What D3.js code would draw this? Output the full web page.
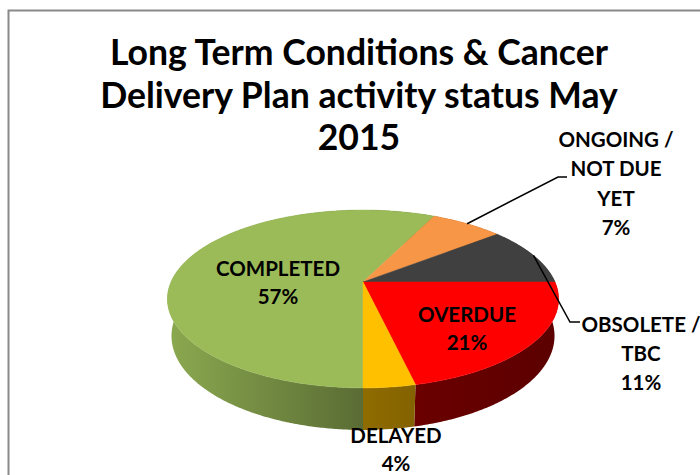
<!DOCTYPE html>
<html>
<head>
<meta charset="utf-8">
<script src="https://cdn.jsdelivr.net/npm/d3@7"></script>
<style>
  body { margin: 0; background: #fff; }
  text { font-family: Lato, "Open Sans", sans-serif; font-weight: bold; fill: #000; }
</style>
</head>
<body>
<div id="chart"></div>
<script>
// data
var categories = ["COMPLETED", "ONGOING / NOT DUE YET", "OBSOLETE / TBC", "OVERDUE", "DELAYED"];
var counts = [16, 2, 3, 6, 1];
var labelLines = [["COMPLETED"], ["ONGOING /", "NOT DUE", "YET"], ["OBSOLETE /", "TBC"], ["OVERDUE"], ["DELAYED"]];
var titleLines = ["Long Term Conditions & Cancer", "Delivery Plan activity status May", "2015"];

// styles
var topColors = ["#9bbb59", "#f79646", "#404040", "#ff0000", "#ffc000"];
var sideLeft = ["#8aa84f", "#c0733a", "#4a4a4a", "#830000", "#c09000"];
var sideRight = ["#2a3019", "#603a1d", "#252525", "#5c0000", "#604800"];

// label layout: centre x, first baseline, line height
var labelPos = [
  {x: 278, y: 276, lh: 27.5},
  {x: 616, y: 147, lh: 29.3},
  {x: 641, y: 332, lh: 29},
  {x: 467, y: 322, lh: 27.5},
  {x: 396, y: 443, lh: 27.5}
];
var leaderEnds = {1: [[558, 177], [567, 177]], 2: [[570, 322], [580, 322]]};

var width = 700, height = 475;
var svg = d3.select("#chart").append("svg")
  .attr("width", width)
  .attr("height", height);
var defs = svg.append("defs");

// chart area border
svg.append("rect")
  .attr("x", 8.5).attr("y", 10.5)
  .attr("width", 800).attr("height", 600)
  .style("fill", "#fff")
  .style("stroke", "#898989")
  .style("stroke-width", 2);

// title
var title = svg.append("g");
titleLines.forEach(function(t, i) {
  title.append("text")
    .attr("x", 359)
    .attr("y", 65 + i * 42.5)
    .attr("text-anchor", "middle")
    .style("font-size", "34px")
    .text(t);
});
var w0 = title.select("text").node().getComputedTextLength();
title.selectAll("text").style("font-size", (34 * 498 / w0) + "px");

// 3d projection of the pie (perspective)
var cx = 363, cy = 282, f = 899.7, D = 4.686;
var tilt = 26.5 * Math.PI / 180, sn = Math.sin(tilt), cs = Math.cos(tilt);
var depthH = 0.2156;
function proj(a, r, z) {
  var X = r * Math.sin(a), Y = r * Math.cos(a), Z = z;
  var dep = D + Y * cs - Z * sn;
  var v = Y * sn + Z * cs;
  return [cx + f * X / dep, cy - f * v / dep];
}
function arcPts(a0, a1, z) {
  var n = Math.max(2, Math.ceil((a1 - a0) / (Math.PI / 360)));
  return d3.range(n + 1).map(function(j) { return proj(a0 + (a1 - a0) * j / n, 1, z); });
}

var pie = d3.pie().sort(null).startAngle(Math.PI).endAngle(3 * Math.PI);
var arcs = pie(counts);
var total = d3.sum(counts);

// side shading gradients, left to right
arcs.forEach(function(d, i) {
  var g = defs.append("linearGradient")
    .attr("id", "side" + i)
    .attr("gradientUnits", "userSpaceOnUse")
    .attr("x1", cx - 192).attr("x2", cx + 192)
    .attr("y1", 0).attr("y2", 0);
  g.append("stop").attr("offset", 0).attr("stop-color", sideLeft[i]);
  g.append("stop").attr("offset", 1).attr("stop-color", sideRight[i]);
});

// sides, far slices first
var order = d3.range(arcs.length).sort(function(p, q) {
  return Math.cos((arcs[q].startAngle + arcs[q].endAngle) / 2) - Math.cos((arcs[p].startAngle + arcs[p].endAngle) / 2);
});
svg.append("g").selectAll("path")
  .data(order)
  .enter().append("path")
  .attr("d", function(i) {
    var d = arcs[i];
    var pts = arcPts(d.startAngle, d.endAngle, 0).concat(arcPts(d.startAngle, d.endAngle, -depthH).reverse());
    return "M" + pts.join("L") + "Z";
  })
  .style("fill", function(i) { return "url(#side" + i + ")"; });

// top faces
svg.append("g").selectAll("path")
  .data(arcs)
  .enter().append("path")
  .attr("d", function(d) {
    var pts = [proj(0, 0, 0)].concat(arcPts(d.startAngle, d.endAngle, 0));
    return "M" + pts.join("L") + "Z";
  })
  .style("fill", function(d, i) { return topColors[i]; })
  .style("stroke", function(d, i) { return topColors[i]; })
  .style("stroke-width", 0.5);

// leader lines
arcs.forEach(function(d, i) {
  if (!leaderEnds[i]) return;
  var mid = (d.startAngle + d.endAngle) / 2;
  var pts = [proj(mid, 1, 0)].concat(leaderEnds[i]);
  svg.append("path")
    .attr("d", "M" + pts.join("L"))
    .style("fill", "none")
    .style("stroke", "#000")
    .style("stroke-width", 1.5);
});

// data labels
arcs.forEach(function(d, i) {
  var lines = labelLines[i].concat([Math.round(100 * counts[i] / total) + "%"]);
  var lp = labelPos[i];
  lines.forEach(function(t, j) {
    svg.append("text")
      .attr("x", lp.x)
      .attr("y", lp.y + j * lp.lh)
      .attr("text-anchor", "middle")
      .style("font-size", "20.5px")
      .text(t);
  });
});
</script>
</body>
</html>
